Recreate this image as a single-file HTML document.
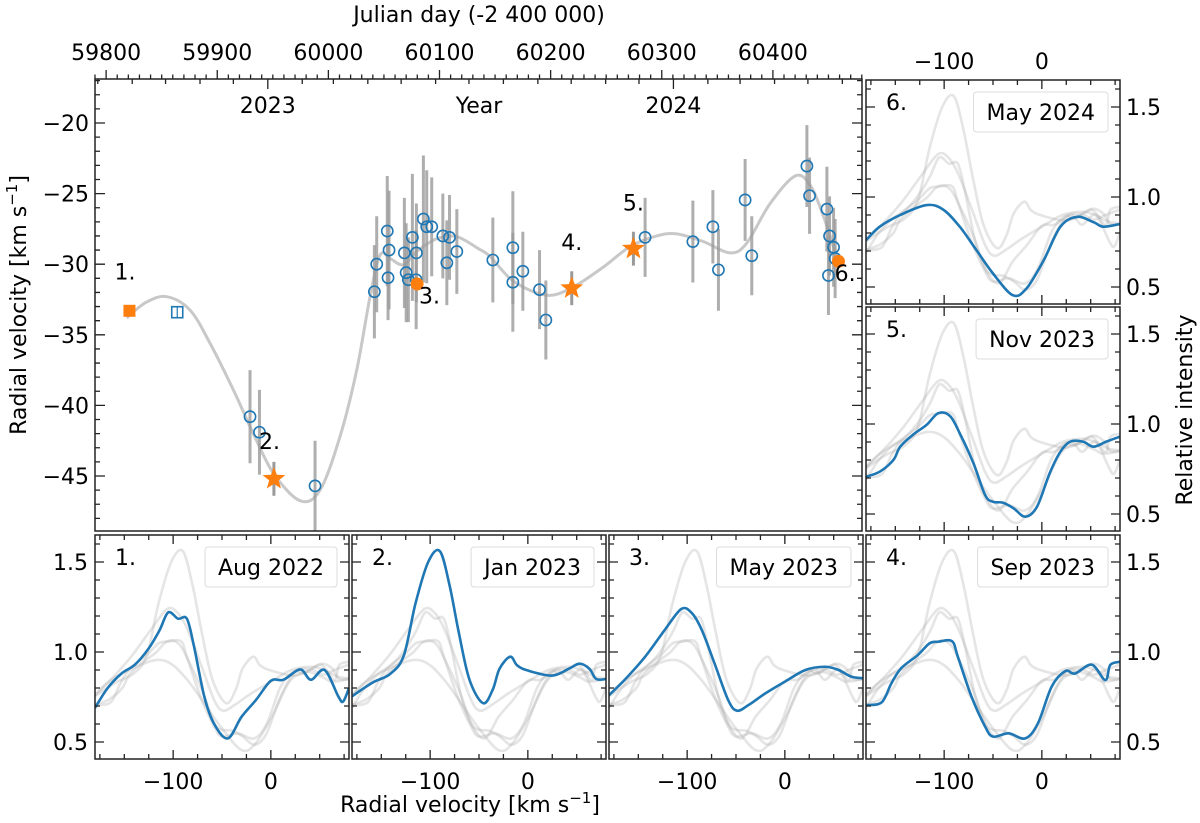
<!DOCTYPE html>
<html><head><meta charset="utf-8">
<style>
html,body{margin:0;padding:0;background:#fff;}
svg{display:block;font-family:"DejaVu Sans","Liberation Sans",sans-serif;}
</style></head>
<body>
<svg id="fig" width="1200" height="823" viewBox="0 0 1200 823" xmlns="http://www.w3.org/2000/svg"></svg>
<script>
// ---------- main chart data ----------
const circJD = [59929.5,59938,59988,60041.4,60043.5,60053,60054.6,60053.7,60068.4,60070,60072,60075.6,60079.2,60079,60085.5,60088.5,60093,60103,60109,60106.6,60115.6,60148,60166,60166,60175,60190,60195.7,60285,60328,60346,60351,60375,60381,60430.6,60433,60448.6,60451,60454.6,60456,60450];
const circRV = [-40.8,-41.9,-45.7,-31.95,-30.0,-27.65,-29.0,-30.96,-29.2,-30.6,-31.1,-28.1,-29.2,-31.1,-26.8,-27.35,-27.35,-28.0,-28.1,-29.9,-29.1,-29.7,-28.83,-31.28,-30.5,-31.8,-33.95,-28.1,-28.4,-27.35,-30.4,-25.45,-29.4,-23.05,-25.15,-26.1,-28.0,-28.8,-29.6,-30.8];
const circErr = [3.3,3.0,3.2,3.3,3.4,3.9,4.2,3.0,3.9,3.5,3.0,4.5,3.5,3.5,4.5,4.0,3.5,3.0,3.0,3.0,3.0,3.0,4.0,3.5,2.8,2.8,2.8,2.8,2.9,2.6,2.9,2.9,2.8,2.9,2.7,3.0,2.8,2.8,2.8,2.8];
const starJD = [59951,60219,60274.5];
const starRV = [-45.2,-31.7,-28.9];
const starErr = [1.2,1.2,1.2];
const dotJD = [60079.8,60459];
const dotRV = [-31.4,-29.8];
const sqJD = [59821];
const sqRV = [-33.3];
const openSqJD = [59864];
const openSqRV = [-33.4];
const trendJD = [59818.5,59836,59854.5,59875.5,59893.5,59914.5,59932.5,59950.5,59974.5,59992.5,60010.5,60025.5,60037.5,60046.5,60055.5,60067.5,60079.5,60097.5,60115.5,60135,60145.5,60166.5,60196.5,60220.5,60247.5,60271.5,60295.5,60313.5,60337.5,60361.5,60376.5,60397.5,60420,60433.5,60445.5,60457.5];
const trendRV = [-33.8,-32.7,-32.3,-33.25,-35.6,-38.9,-42.0,-44.8,-46.75,-46.0,-42.2,-37.5,-32.3,-29.35,-29.6,-30.05,-29.1,-28.2,-28.05,-28.9,-29.45,-31.2,-32.2,-31.6,-30.2,-28.75,-28.0,-27.85,-28.4,-29.2,-28.5,-25.7,-23.75,-24.4,-26.6,-29.5];
const jdTicks = [59800,59900,60000,60100,60200,60300,60400];
const rvTicks = [-20,-25,-30,-35,-40,-45];
const epochLabels = ["1.","2.","3.","4.","5.","6."];
const epochLabJD = [59817,59947,60091,60219,60274.5,60465];
const epochLabRV = [-31.1,-43.1,-32.8,-29.0,-26.2,-31.2];

// ---------- spectra data ----------
const aug22V = [-180,-167,-153,-139,-125,-114,-105,-95,-86,-79,-68,-58,-44,-30,-15,0,13,30,41,55,69,74,80];
const aug22I = [0.69,0.80,0.88,0.93,1.02,1.12,1.22,1.185,1.185,1.04,0.75,0.60,0.52,0.64,0.735,0.84,0.846,0.903,0.846,0.90,0.754,0.725,0.80];
const jan23V = [-180,-159,-141,-127,-115,-102,-90,-80,-71,-60,-46,-36,-29,-18,-11,0,25,42,53,63,70,80];
const jan23I = [0.754,0.83,0.878,0.98,1.27,1.5,1.56,1.367,1.117,0.85,0.716,0.79,0.907,0.974,0.926,0.897,0.869,0.907,0.935,0.907,0.85,0.85];
const may23V = [-180,-164,-143,-123,-106,-95,-85,-72,-58,-49,-37,-20,0,21,41,55,68,80];
const may23I = [0.76,0.845,0.974,1.122,1.239,1.215,1.122,0.937,0.733,0.674,0.706,0.77,0.835,0.9,0.918,0.9,0.863,0.854];
const sep23V = [-180,-164,-154,-144,-127,-115,-106,-92,-86,-72,-58,-50,-34,-17,-4,10,24,34,51,65,70,80];
const sep23I = [0.705,0.72,0.826,0.91,0.983,1.048,1.057,1.06,0.974,0.752,0.585,0.53,0.548,0.52,0.604,0.807,0.894,0.88,0.93,0.844,0.928,0.946];
const nov23V = [-180,-166,-152,-145,-132,-118,-106,-94,-84,-70,-58,-50,-40,-29,-17,-5,8,19,29,42,53,66,80];
const nov23I = [0.707,0.735,0.8,0.874,0.94,0.995,1.06,1.044,0.948,0.782,0.605,0.568,0.563,0.532,0.485,0.54,0.726,0.846,0.902,0.902,0.874,0.902,0.93];
const may24V = [-180,-166,-145,-118,-101,-84,-67,-50,-30,-16,2,19,36,53,63,80];
const may24I = [0.76,0.835,0.90,0.955,0.93,0.835,0.705,0.575,0.455,0.49,0.65,0.835,0.89,0.86,0.835,0.85];
const specNames = ["Aug 2022","Jan 2023","May 2023","Sep 2023","Nov 2023","May 2024"];

const NS = "http://www.w3.org/2000/svg";
const svg = document.getElementById('fig');
function mk(tag, attrs, parent){ const e=document.createElementNS(NS,tag); for(const k in attrs) e.setAttribute(k,attrs[k]); (parent||svg).appendChild(e); return e; }
function smooth(pts){
  if(pts.length<2) return "";
  let d="M"+pts[0][0].toFixed(2)+","+pts[0][1].toFixed(2);
  for(let i=0;i<pts.length-1;i++){
    const p0=pts[Math.max(0,i-1)],p1=pts[i],p2=pts[i+1],p3=pts[Math.min(pts.length-1,i+2)];
    const c1x=p1[0]+(p2[0]-p0[0])/6,c1y=p1[1]+(p2[1]-p0[1])/6;
    const c2x=p2[0]-(p3[0]-p1[0])/6,c2y=p2[1]-(p3[1]-p1[1])/6;
    d+=" C"+c1x.toFixed(2)+","+c1y.toFixed(2)+" "+c2x.toFixed(2)+","+c2y.toFixed(2)+" "+p2[0].toFixed(2)+","+p2[1].toFixed(2);
  }
  return d;
}
const defs = mk('defs',{});

// ---------- main panel ----------
const M = {l:95,t:79,r:862,b:531};
const xJD = j => M.l + (j-59790)*1.1113;
const yRV = v => 123 + (-20 - v)*14.12;
const cpM = mk('clipPath',{id:'clipMain'},defs);
mk('rect',{x:M.l,y:M.t,width:M.r-M.l,height:M.b-M.t},cpM);

const mainG = mk('g',{'clip-path':'url(#clipMain)'});



const trend = mk('path',{d:smooth(trendJD.map((j,i)=>[xJD(j),yRV(trendRV[i])])),fill:'none',stroke:'#c8c8c8','stroke-width':3},mainG);



for(let i=0;i<circJD.length;i++){
  const eb = mk('line',{x1:xJD(circJD[i]),x2:xJD(circJD[i]),y1:yRV(circRV[i]+circErr[i]),y2:yRV(circRV[i]-circErr[i]),stroke:'#9a9a9a','stroke-width':3,'stroke-opacity':0.8},mainG);
  
  
}
for(let i=0;i<starJD.length;i++){
  const eb = mk('line',{x1:xJD(starJD[i]),x2:xJD(starJD[i]),y1:yRV(starRV[i]+starErr[i]),y2:yRV(starRV[i]-starErr[i]),stroke:'#9a9a9a','stroke-width':3},mainG);
  
  
}
for(let i=0;i<circJD.length;i++){
  const c = mk('circle',{cx:xJD(circJD[i]),cy:yRV(circRV[i]),r:5.6,fill:'none',stroke:'#1f77b4','stroke-width':1.6},mainG);
  
  
}
for(let i=0;i<sqJD.length;i++){
  const s = mk('rect',{x:xJD(sqJD[i])-6,y:yRV(sqRV[i])-6,width:12,height:12,fill:'#ff7f0e'},mainG);
  
  
}
for(let i=0;i<openSqJD.length;i++){
  const s = mk('rect',{x:xJD(openSqJD[i])-5.5,y:yRV(openSqRV[i])-5.5,width:11,height:11,fill:'none',stroke:'#1f77b4','stroke-width':1.6},mainG);
  
  
  const l = mk('line',{x1:xJD(openSqJD[i]),x2:xJD(openSqJD[i]),y1:yRV(openSqRV[i])-5.5,y2:yRV(openSqRV[i])+5.5,stroke:'#1f77b4','stroke-width':1.2},mainG);
  
  
}
function starPath(cx,cy,R,r){let d="";for(let k=0;k<10;k++){const a=-Math.PI/2+k*Math.PI/5;const rr=k%2?r:R;d+=(k?"L":"M")+(cx+rr*Math.cos(a)).toFixed(2)+","+(cy+rr*Math.sin(a)).toFixed(2);}return d+"Z";}
for(let i=0;i<starJD.length;i++){
  const s = mk('path',{d:starPath(xJD(starJD[i]),yRV(starRV[i]),12,5),fill:'#ff7f0e'},mainG);
  
  
}
for(let i=0;i<dotJD.length;i++){
  const s = mk('circle',{cx:xJD(dotJD[i]),cy:yRV(dotRV[i]),r:6.5,fill:'#ff7f0e'},mainG);
  
  
}
for(let i=0;i<epochLabels.length;i++){
  const t = mk('text',{x:xJD(epochLabJD[i]),y:yRV(epochLabRV[i]),'font-size':22,'text-anchor':'middle',fill:'#000'},mainG);
  t.textContent = epochLabels[i];
  
  
}

// main ticks
let tp="";
for(let v=-16;v>=-49;v--){ const y=yRV(v); if(y<M.t||y>M.b) continue; const L=(v%5===0)?10:5; tp+=`M${M.l},${y}h${L}M${M.r},${y}h${-L}`; }
for(let j=59790;j<=60480;j+=10){ const x=xJD(j); if(x<M.l||x>M.r) continue; const L=(j%100===0)?9:4.5; tp+=`M${x},${M.t}v${-L}`; }
for(let y=2022;y<=2024;y++) for(let m=0;m<12;m++){
  const jd = Date.UTC(y,m,1)/86400000+40587+0.5; const x=xJD(jd); if(x<M.l||x>M.r) continue;
  const L=(m===0)?10:5; tp+=`M${x},${M.t}v${L}`;
}
const mt = mk('path',{d:tp,stroke:'#222','stroke-width':1.3,fill:'none'});


const mf = mk('rect',{x:M.l,y:M.t,width:M.r-M.l,height:M.b-M.t,fill:'none',stroke:'#222','stroke-width':1.5});


for(const v of rvTicks){
  const t = mk('text',{x:89,y:yRV(v)+8,'font-size':22,'text-anchor':'end'});
  t.textContent = "−"+Math.abs(v);
  
  
}
for(const j of jdTicks){
  const t = mk('text',{x:xJD(j),y:60,'font-size':22,'text-anchor':'middle'});
  t.textContent = String(j);
  
  
}
for(const yr of [2023,2024]){
  const t = mk('text',{x:xJD(Date.UTC(yr,0,1)/86400000+40587+0.5),y:113,'font-size':22,'text-anchor':'middle'});
  t.textContent = String(yr);
  
  
}
const yl = mk('text',{x:479,y:113,'font-size':22,'text-anchor':'middle'});
yl.textContent="Year";


const jt = mk('text',{x:479,y:22,'font-size':22,'text-anchor':'middle'});
jt.textContent="Julian day (-2 400 000)";


const yt = mk('text',{x:0,y:0,'font-size':22,'text-anchor':'middle',transform:'translate(26,305) rotate(-90)'});
yt.innerHTML='Radial velocity [km s<tspan dy="-9" font-size="15">−1</tspan><tspan dy="9">]</tspan>';



// ---------- spectrum panels ----------
const specV=[aug22V,jan23V,may23V,sep23V,nov23V,may24V];
const specI=[aug22I,jan23I,may23I,sep23I,nov23I,may24I];
const panels=[{l:95,t:535,n:0},{l:352,t:535,n:1},{l:609,t:535,n:2},{l:866,t:535,n:3},{l:866,t:307,n:4},{l:866,t:80,n:5}];
const PW=254, PH=224;
panels.forEach(p=>{
  const xV=v=>p.l+(v+180)*PW/260;
  const yI=I=>p.t+(1.65-I)*180;
  const cp=mk('clipPath',{id:'clipP'+p.n},defs);
  mk('rect',{x:p.l,y:p.t,width:PW,height:PH},cp);
  const g=mk('g',{'clip-path':'url(#clipP'+p.n+')'});
  
  
  for(let s=0;s<6;s++){
    if(s===p.n) continue;
    const gl=mk('path',{d:smooth(specV[s].map((v,i)=>[xV(v),yI(specI[s][i])])),fill:'none',stroke:'#a8a8a8','stroke-opacity':0.3,'stroke-width':2.6},g);
    
    
  }
  const bl=mk('path',{d:smooth(specV[p.n].map((v,i)=>[xV(v),yI(specI[p.n][i])])),fill:'none',stroke:'#1f77b4','stroke-width':2.6},g);
  
  
  let d="";
  for(let v=-175;v<=75;v+=25){const x=xV(v);const L=(v%100===0)?9:5;d+=`M${x},${p.t}v${L}M${x},${p.t+PH}v${-L}`;}
  for(let k=4;k<=16;k++){const I=k/10;const y=yI(I);if(y<p.t||y>p.t+PH)continue;const L=(k%5===0)?9:5;d+=`M${p.l},${y}h${L}M${p.l+PW},${y}h${-L}`;}
  const tk=mk('path',{d:d,stroke:'#222','stroke-width':1.3,fill:'none'});
  
  
  const fr=mk('rect',{x:p.l,y:p.t,width:PW,height:PH,fill:'none',stroke:'#222','stroke-width':1.5});
  
  
  const nl=mk('text',{x:p.l+20,y:p.t+30,'font-size':22});
  nl.textContent=(p.n+1)+".";
  
  
  const lg=mk('g',{});
  
  
  const box=mk('rect',{x:0,y:p.t+12,width:10,height:40,rx:3,fill:'#fff','fill-opacity':0.85,stroke:'#dcdcdc','stroke-width':1},lg);
  const lt=mk('text',{x:p.l+PW-25,y:p.t+40,'font-size':22,'text-anchor':'end'},lg);
  lt.textContent=specNames[p.n];
  const w=lt.getComputedTextLength();
  box.setAttribute('x',p.l+PW-12-w-26);
  box.setAttribute('width',w+26);
  if(p.t===535){
    for(const v of [-100,0]){
      const t=mk('text',{x:xV(v),y:p.t+PH+30,'font-size':22,'text-anchor':'middle'});
      t.textContent=v<0?"−"+Math.abs(v):String(v);
      
      
    }
  }
  if(p.n===5){
    for(const v of [-100,0]){
      const t=mk('text',{x:xV(v),y:69,'font-size':22,'text-anchor':'middle'});
      t.textContent=v<0?"−"+Math.abs(v):String(v);
      
      
    }
  }
  if(p.n===0 || p.l===866){
    for(const I of [0.5,1.0,1.5]){
      const t=mk('text',{x:p.n===0?88:1126,y:yI(I)+8,'font-size':22,'text-anchor':p.n===0?'end':'start'});
      t.textContent=I.toFixed(1);
      
      
    }
  }
});
const xl = mk('text',{x:470,y:812,'font-size':22,'text-anchor':'middle'});
xl.innerHTML='Radial velocity [km s<tspan dy="-9" font-size="15">−1</tspan><tspan dy="9">]</tspan>';


const rl = mk('text',{x:0,y:0,'font-size':22,'text-anchor':'middle',transform:'translate(1192,410) rotate(-90)'});
rl.textContent='Relative intensity';


</script>
</body></html>
